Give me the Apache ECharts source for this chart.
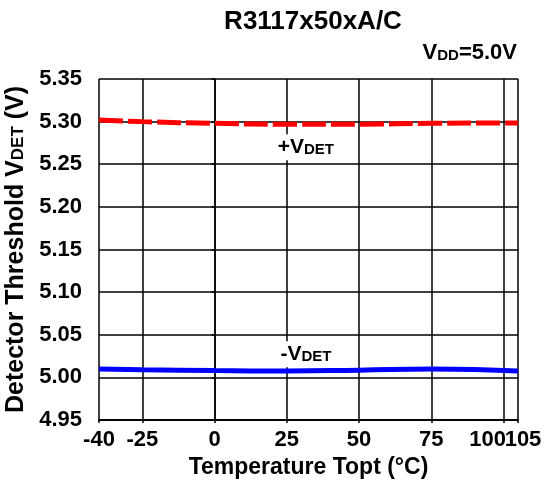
<!DOCTYPE html>
<html><head><meta charset="utf-8">
<script src="https://cdn.jsdelivr.net/npm/echarts@6/dist/echarts.min.js"></script>
<style>html,body{margin:0;padding:0;background:#fff}#c{width:552px;height:492px}</style>
</head><body><div id="c"></div>
<script>
const temps = [-40, -25, 0, 25, 50, 75, 105];
const plusVdet = [5.302, 5.300, 5.298, 5.297, 5.297, 5.298, 5.2985];
const minusVdet = [5.0099, 5.009, 5.008, 5.0075, 5.0085, 5.0098, 5.0075];
const xTicks = [-40, -25, 0, 25, 50, 75, 100];
const xTicksEnd = [105];
const labelPlus = [31.6, 5.270];
const labelMinus = [31.6, 5.027];
const FONT = 'Liberation Sans';

const chart = echarts.init(document.getElementById('c'), null, {renderer: 'canvas'});
const toPairs = (xs, ys) => xs.map((x, i) => [x, ys[i]]);
const lblFont = {fontSize: 22, fontWeight: 'bold', fontFamily: FONT, color: '#000'};
const xAxisBase = {
  type: 'value', min: -40, max: 105, position: 'bottom',
  axisLine: {show: true, lineStyle: {color: '#000', width: 1.5}},
};
chart.setOption({
  animation: false,
  textStyle: {fontFamily: FONT, color: '#000'},
  title: {text: 'R3117x50xA/C', left: 308, top: 4, textAlign: 'center',
    textStyle: {fontFamily: FONT, fontSize: 26, fontWeight: 'bold', color: '#000'}},
  grid: {left: 99, right: 34, top: 79, bottom: 72, show: false, outerBoundsMode: 'none'},
  xAxis: [Object.assign({}, xAxisBase, {
    name: 'Temperature Topt (°C)', nameLocation: 'middle', nameGap: 35,
    nameTextStyle: {fontFamily: FONT, fontSize: 23, fontWeight: 'bold', color: '#000'},
    axisTick: {show: true, length: 3, customValues: xTicks.concat(xTicksEnd), lineStyle: {color: '#000', width: 1.5}},
    splitLine: {show: true, lineStyle: {color: '#000', width: 1.5}},
    axisLabel: Object.assign({}, lblFont, {
      customValues: xTicks, margin: 9, hideOverlap: false,
      formatter: v => v === 100 ? '{l|100}' : String(v),
      rich: {l: Object.assign({}, lblFont, {padding: [0, 32, 0, 0]})}
    })
  }), Object.assign({}, xAxisBase, {
    axisTick: {show: false}, splitLine: {show: false},
    axisLabel: Object.assign({}, lblFont, {
      customValues: xTicksEnd, margin: 9, hideOverlap: false,
      formatter: v => '{r|' + v + '}',
      rich: {r: Object.assign({}, lblFont, {padding: [0, 0, 0, 10]})}
    })
  })],
  yAxis: {
    type: 'value', min: 4.95, max: 5.35, interval: 0.05,
    name: '{a|Detector Threshold V}{b|DET}{a| (V)}', nameLocation: 'middle', nameGap: 63,
    nameTextStyle: {rich: {
      a: {fontFamily: FONT, fontSize: 25, fontWeight: 'bold', color: '#000'},
      b: {fontFamily: FONT, fontSize: 17, fontWeight: 'bold', color: '#000', padding: [6, 0, 0, 0]}
    }},
    axisLine: {show: true, lineStyle: {color: '#000', width: 1.5}},
    axisTick: {show: true, length: 3, lineStyle: {color: '#000', width: 1.5}},
    splitLine: {show: true, lineStyle: {color: '#000', width: 1.5}},
    axisLabel: Object.assign({}, lblFont, {margin: 17, formatter: v => v.toFixed(2)})
  },
  series: [
    {type: 'line', data: toPairs(temps, plusVdet), smooth: true, symbol: 'none', z: 3,
     lineStyle: {color: '#ff0000', width: 5, type: [24, 5]}},
    {type: 'line', data: toPairs(temps, minusVdet), smooth: true, symbol: 'none', z: 3,
     lineStyle: {color: '#0000ff', width: 5}}
  ]
});

const subRich = {
  a: {fontFamily: FONT, fontSize: 21, fontWeight: 'bold', fill: '#000'},
  b: {fontFamily: FONT, fontSize: 15, fontWeight: 'bold', fill: '#000', padding: [5, 0, 0, 0]}
};
const textAt = (pt, txt) => {
  const p = chart.convertToPixel({gridIndex: 0}, pt);
  return {type: 'group', x: p[0], y: p[1], z: 100, children: [
    {type: 'rect', shape: {x: -34, y: -13, width: 68, height: 26}, style: {fill: '#fff'}, z: 100},
    {type: 'text', z: 101, style: {text: txt, x: 0, y: 0, align: 'center', verticalAlign: 'middle', rich: subRich}}
  ]};
};
chart.setOption({graphic: [
  {type: 'text', right: 35, top: 42, style: {
    text: '{a|V}{b|DD}{a|=5.0V}', fill: '#000',
    rich: {a: {fontFamily: FONT, fontSize: 22, fontWeight: 'bold', fill: '#000'},
           b: {fontFamily: FONT, fontSize: 15, fontWeight: 'bold', fill: '#000', padding: [5, 0, 0, 0]}}}},
  textAt(labelPlus, '{a|+V}{b|DET}'),
  textAt(labelMinus, '{a|-V}{b|DET}')
]});
</script></body></html>
